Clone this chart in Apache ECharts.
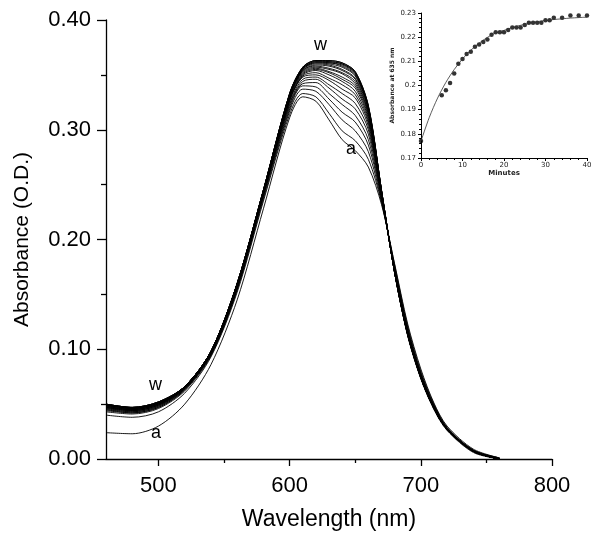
<!DOCTYPE html>
<html><head><meta charset="utf-8">
<script src="https://cdn.jsdelivr.net/npm/echarts@6/dist/echarts.min.js"></script>
<style>html,body{margin:0;padding:0;background:#fff}#c{width:600px;height:536px}</style>
</head><body><div id="c"></div>
<script>
const wavelengths = [460,480,500,520,540,560,580,600,610,620,630,640,650,660,670,680,690,700,710,720,740,760];
const curveA = [.024,.023,.030,.050,.086,.145,.228,.311,.330,.326,.309,.291,.281,.266,.232,.178,.123,.082,.051,.030,.009,.001];
const curveB = [.040,.038,.043,.060,.093,.152,.235,.314,.333,.330,.315,.299,.290,.273,.234,.177,.121,.080,.050,.029,.008,.001];
const curveC = [.043,.041,.046,.062,.094,.154,.237,.317,.337,.335,.323,.309,.299,.280,.235,.175,.119,.078,.049,.028,.008,.001];
const curveD = [.044,.042,.047,.063,.095,.155,.239,.319,.340,.339,.328,.316,.307,.286,.237,.174,.118,.078,.048,.028,.008,0];
const curveE = [.045,.042,.047,.063,.095,.155,.240,.321,.342,.343,.333,.323,.313,.291,.238,.173,.117,.077,.048,.028,.008,0];
const curveF = [.045,.043,.048,.064,.096,.156,.241,.323,.344,.346,.338,.328,.319,.296,.239,.173,.117,.077,.048,.028,.007,0];
const curveG = [.046,.043,.048,.064,.096,.157,.241,.324,.346,.348,.341,.333,.324,.300,.240,.172,.116,.076,.047,.028,.007,0];
const curveH = [.046,.044,.049,.064,.096,.157,.242,.326,.348,.350,.345,.337,.329,.303,.241,.172,.116,.076,.047,.027,.007,0];
const curveI = [.047,.044,.049,.065,.097,.158,.242,.327,.349,.352,.347,.341,.332,.306,.241,.172,.115,.076,.047,.027,.007,0];
const curveJ = [.047,.044,.049,.065,.097,.158,.243,.327,.350,.354,.350,.344,.335,.308,.242,.171,.115,.075,.047,.027,.007,0];
const curveK = [.047,.045,.050,.065,.097,.158,.243,.328,.351,.355,.352,.346,.338,.310,.242,.171,.115,.075,.047,.027,.007,0];
const curveL = [.048,.045,.050,.065,.097,.159,.243,.329,.352,.356,.353,.348,.340,.312,.243,.171,.114,.075,.046,.027,.007,0];
const curveM = [.048,.045,.050,.065,.097,.159,.244,.330,.353,.357,.355,.351,.342,.314,.243,.171,.114,.075,.046,.027,.007,0];
const curveN = [.048,.045,.050,.066,.098,.159,.244,.330,.354,.358,.356,.352,.344,.315,.243,.171,.114,.075,.046,.027,.007,0];
const curveO = [.049,.046,.051,.066,.098,.159,.244,.331,.354,.359,.358,.354,.346,.316,.244,.170,.114,.074,.046,.027,.007,0];
const curveP = [.049,.046,.051,.066,.098,.160,.244,.331,.355,.360,.359,.355,.347,.318,.244,.170,.114,.074,.046,.027,.007,0];
const curveQ = [.049,.046,.051,.066,.098,.160,.245,.332,.355,.361,.360,.357,.349,.319,.244,.170,.113,.074,.046,.027,.007,0];
const curveR = [.049,.046,.051,.066,.098,.160,.245,.332,.356,.361,.361,.358,.350,.319,.245,.170,.113,.074,.046,.027,.007,0];
const curveS = [.050,.047,.051,.066,.098,.160,.245,.332,.356,.362,.361,.359,.351,.320,.245,.170,.113,.074,.046,.027,.007,0];
const curveT = [.050,.047,.052,.066,.098,.160,.245,.333,.356,.362,.362,.360,.352,.321,.245,.170,.113,.074,.046,.027,.007,0];
const curveU = [.050,.047,.052,.066,.098,.160,.245,.333,.357,.363,.362,.360,.352,.321,.245,.170,.113,.074,.046,.027,.007,0];
const curveV = [.050,.047,.052,.066,.098,.160,.245,.333,.357,.363,.363,.361,.353,.322,.245,.170,.113,.074,.046,.027,.007,0];
const curveW = [.050,.047,.052,.066,.098,.160,.245,.333,.357,.363,.363,.361,.353,.322,.245,.170,.112,.073,.045,.026,.006,0];
const curveNames = ['a','b','c','d','e','f','g','h','i','j','k','l','m','n','o','p','q','r','s','t','u','v','w'];
const curves = [curveA,curveB,curveC,curveD,curveE,curveF,curveG,curveH,curveI,curveJ,curveK,curveL,curveM,curveN,curveO,curveP,curveQ,curveR,curveS,curveT,curveU,curveV,curveW];

const xTickLabels = [500,600,700,800];
const xMinorTicks = [550,650,750];

const insetMinutes = [0,5,6,7,8,9,10,11,12,13,14,15,16,17,18,19,20,21,22,23,24,25,26,27,28,29,30,31,32,34,36,38,40];
const insetAbs = [0.177,0.196,0.198,0.201,0.205,0.209,0.211,0.213,0.214,0.216,0.217,0.218,0.219,0.221,0.222,0.222,0.222,0.223,0.224,0.224,0.224,0.225,0.226,0.226,0.226,0.226,0.227,0.227,0.228,0.228,0.229,0.229,0.229];
const fitMinutes = [0,2,4,6,8,10,12,14,16,18,20,22,24,26,28,30,32,34,36,38,40];
const fitAbs = [0.177,0.1868,0.1948,0.2013,0.2066,0.2110,0.2146,0.2175,0.2199,0.2218,0.2228,0.2240,0.2249,0.2257,0.2264,0.2269,0.2273,0.2276,0.2279,0.2281,0.2283];

const FONT = '"Liberation Sans", Arial, sans-serif';
const chart = echarts.init(document.getElementById('c'), null, {renderer:'canvas'});

const mainSeries = curves.map((c, k) => ({
  name: curveNames[k], type: 'line', xAxisIndex: 0, yAxisIndex: 0,
  data: wavelengths.map((w, i) => [w, c[i]]),
  smooth: 0.3, showSymbol: false, silent: true,
  lineStyle: {color: '#000', width: 0.9}
}));

chart.setOption({
  animation: false,
  backgroundColor: '#fff',
  grid: [
    {left: 106, right: 48, top: 20, bottom: 77},
    {left: 421, top: 13, width: 166, height: 145}
  ],
  xAxis: [
    {type: 'value', gridIndex: 0, min: 460, max: 800,
     name: 'Wavelength (nm)', nameLocation: 'middle', nameGap: 49,
     nameTextStyle: {fontFamily: FONT, fontSize: 23, color: '#000'},
     axisLine: {show: true, lineStyle: {color: '#000', width: 1.3}},
     axisTick: {show: true, customValues: xTickLabels, length: 7, lineStyle: {color: '#000', width: 1.3}},
     axisLabel: {customValues: xTickLabels, fontFamily: FONT, fontSize: 22, color: '#000', margin: 16},
     splitLine: {show: false}},
    {type: 'value', gridIndex: 0, min: 460, max: 800, position: 'bottom',
     axisLine: {show: false},
     axisTick: {show: true, customValues: xMinorTicks, length: 4, lineStyle: {color: '#000', width: 1.3}},
     axisLabel: {show: false}, splitLine: {show: false}},
    {type: 'value', gridIndex: 1, min: 0, max: 40, interval: 10,
     name: 'Minutes', nameLocation: 'middle', nameGap: 11,
     nameTextStyle: {fontFamily: '"DejaVu Sans", sans-serif', fontSize: 7, fontWeight: 'bold', color: '#222'},
     axisLine: {lineStyle: {color: '#000', width: 1}},
     axisTick: {length: 3, lineStyle: {color: '#000'}},
     minorTick: {show: true, splitNumber: 5, length: 2, lineStyle: {color: '#000'}},
     axisLabel: {fontFamily: '"DejaVu Sans", sans-serif', fontSize: 7, color: '#222', margin: 4},
     splitLine: {show: false}}
  ],
  yAxis: [
    {type: 'value', gridIndex: 0, min: 0, max: 0.4, interval: 0.1,
     name: 'Absorbance (O.D.)', nameLocation: 'middle', nameGap: 73,
     nameTextStyle: {fontFamily: FONT, fontSize: 21, color: '#000'},
     axisLine: {show: true, lineStyle: {color: '#000', width: 1.3}},
     axisTick: {show: true, length: 9, lineStyle: {color: '#000', width: 1.3}},
     minorTick: {show: true, splitNumber: 2, length: 5, lineStyle: {color: '#000', width: 1.3}},
     axisLabel: {fontFamily: FONT, fontSize: 22, color: '#000', margin: 15, formatter: v => v.toFixed(2)},
     splitLine: {show: false}},
    {type: 'value', gridIndex: 1, min: 0.17, max: 0.23, interval: 0.01,
     name: 'Absorbance at 635 nm', nameLocation: 'middle', nameGap: 26,
     nameTextStyle: {fontFamily: '"DejaVu Sans", sans-serif', fontSize: 6, fontWeight: 'bold', color: '#222'},
     axisLine: {show: true, lineStyle: {color: '#000', width: 1}},
     axisTick: {length: 3, lineStyle: {color: '#000'}},
     minorTick: {show: true, splitNumber: 5, length: 2, lineStyle: {color: '#000'}},
     axisLabel: {fontFamily: '"DejaVu Sans", sans-serif', fontSize: 7, color: '#222', margin: 5},
     splitLine: {show: false}}
  ],
  series: mainSeries.concat([
    {type: 'line', xAxisIndex: 2, yAxisIndex: 1, data: fitMinutes.map((t, i) => [t, fitAbs[i]]),
     smooth: 0.3, showSymbol: false, silent: true, lineStyle: {color: '#333', width: 0.8}},
    {type: 'scatter', xAxisIndex: 2, yAxisIndex: 1, data: insetMinutes.map((t, i) => [t, insetAbs[i]]),
     symbol: 'circle', symbolSize: 4.5, silent: true, itemStyle: {color: '#000'}}
  ]),
  graphic: [
    {type: 'text', left: 314, top: 36, style: {text: 'w', font: '18px ' + FONT, fill: '#000'}},
    {type: 'text', left: 346, top: 140, style: {text: 'a', font: '18px ' + FONT, fill: '#000'}},
    {type: 'text', left: 149, top: 376, style: {text: 'w', font: '18px ' + FONT, fill: '#000'}},
    {type: 'text', left: 151, top: 424, style: {text: 'a', font: '18px ' + FONT, fill: '#000'}}
  ]
});
</script></body></html>
